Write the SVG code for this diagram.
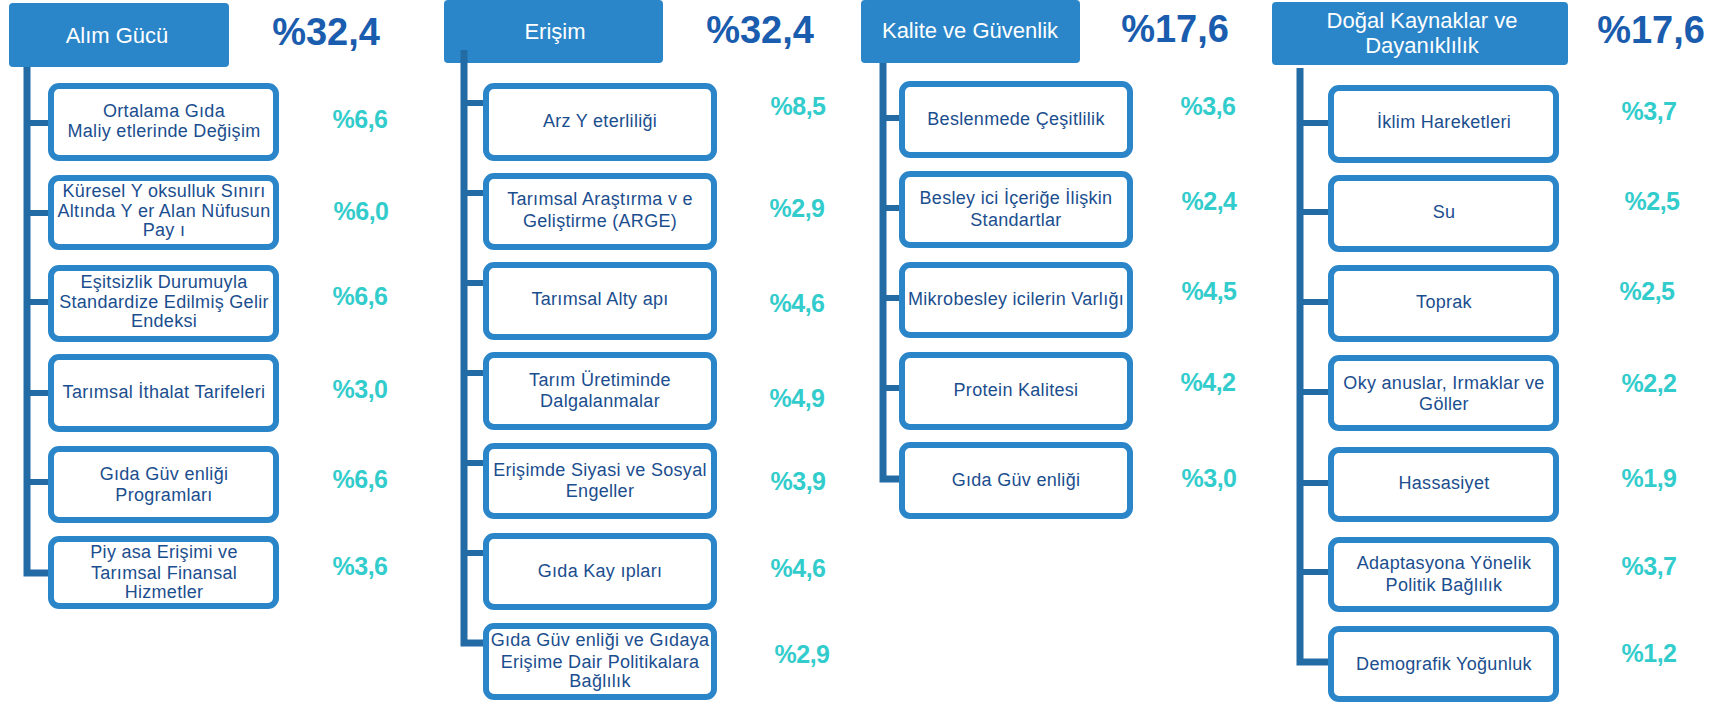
<svg xmlns="http://www.w3.org/2000/svg" width="1716" height="703" viewBox="0 0 1716 703">
<style>
text{font-family:"Liberation Sans",Arial,sans-serif}
.hdr{fill:#2B86C9}
.ht{fill:#fff;font-size:22px;text-anchor:middle}
.box{fill:#fff;stroke:#2B86C9;stroke-width:6}
.bt{fill:#1B4E8E;font-size:18px;text-anchor:middle;letter-spacing:0.3px}
.big{fill:#1A5CAD;font-size:38px;font-weight:bold;text-anchor:middle}
.pct{fill:#33CCCC;font-size:25px;font-weight:bold;text-anchor:middle;letter-spacing:-0.5px}
.trunk{stroke:#236BA4;stroke-width:7;fill:none}
.br{stroke:#236BA4;stroke-width:6}
</style>
<rect width="1716" height="703" fill="#fff"/>

<!-- headers -->
<g id="h1"><rect class="hdr" x="9" y="3" width="220" height="64" rx="4"/><text class="ht" x="117" y="43">Alım Gücü</text></g>
<g id="h2"><rect class="hdr" x="444" y="0" width="219" height="63" rx="4"/><text class="ht" x="555" y="39">Erişim</text></g>
<g id="h3"><rect class="hdr" x="861" y="0" width="219" height="63" rx="4"/><text class="ht" x="970" y="38">Kalite ve Güvenlik</text></g>
<g id="h4"><rect class="hdr" x="1272" y="2" width="296" height="63" rx="4"/><text class="ht" x="1422" y="28">Doğal Kaynaklar ve</text><text class="ht" x="1422" y="53">Dayanıklılık</text></g>

<!-- header percentages -->
<g id="p-h"><text class="big" x="326" y="45">%32,4</text><text class="big" x="760" y="43">%32,4</text><text class="big" x="1175" y="42">%17,6</text><text class="big" x="1651" y="43">%17,6</text></g>

<!-- connectors -->
<g id="connectors">
<path class="trunk" d="M27 67V573H48"/>
<path class="br" d="M27 123H48M27 213H48M27 302H48M27 393H48M27 482H48"/>
<path class="trunk" d="M464 50V643H483"/>
<path class="br" d="M464 103H483M464 193H483M464 283H483M464 373H483M464 463H483M464 553H483"/>
<path class="trunk" d="M883 63V479H899"/>
<path class="br" d="M883 118H899M883 208H899M883 298H899M883 388H899"/>
<path class="trunk" d="M1300 68V662H1328"/>
<path class="br" d="M1300 123H1328M1300 212H1328M1300 302H1328M1300 392H1328M1300 483H1328M1300 572H1328"/>
</g>

<!-- column 1 -->
<g id="c1n1"><rect class="box" x="51" y="86" width="225" height="72" rx="8"/><text class="bt" x="164" y="117">Ortalama Gıda</text><text class="bt" x="164" y="137">Maliy etlerinde Değişim</text></g>
<g id="c1n2"><rect class="box" x="51" y="178" width="225" height="69" rx="8"/><text class="bt" x="164" y="197">Küresel Y oksulluk Sınırı</text><text class="bt" x="164" y="217">Altında Y er Alan Nüfusun</text><text class="bt" x="164" y="236">Pay ı</text></g>
<g id="c1n3"><rect class="box" x="51" y="268" width="225" height="71" rx="8"/><text class="bt" x="164" y="288">Eşitsizlik Durumuyla</text><text class="bt" x="164" y="308">Standardize Edilmiş Gelir</text><text class="bt" x="164" y="327">Endeksi</text></g>
<g id="c1n4"><rect class="box" x="51" y="357" width="225" height="72" rx="8"/><text class="bt" x="164" y="398">Tarımsal İthalat Tarifeleri</text></g>
<g id="c1n5"><rect class="box" x="51" y="449" width="225" height="71" rx="8"/><text class="bt" x="164" y="480">Gıda Güv enliği</text><text class="bt" x="164" y="501">Programları</text></g>
<g id="c1n6"><rect class="box" x="51" y="539" width="225" height="67" rx="8"/><text class="bt" x="164" y="558">Piy asa Erişimi ve</text><text class="bt" x="164" y="579">Tarımsal Finansal</text><text class="bt" x="164" y="598">Hizmetler</text></g>

<!-- column 2 -->
<g id="c2n1"><rect class="box" x="486" y="86" width="228" height="72" rx="8"/><text class="bt" x="600" y="127">Arz Y eterliliği</text></g>
<g id="c2n2"><rect class="box" x="486" y="176" width="228" height="71" rx="8"/><text class="bt" x="600" y="205">Tarımsal Araştırma v e</text><text class="bt" x="600" y="227">Geliştirme (ARGE)</text></g>
<g id="c2n3"><rect class="box" x="486" y="265" width="228" height="72" rx="8"/><text class="bt" x="600" y="305">Tarımsal Alty apı</text></g>
<g id="c2n4"><rect class="box" x="486" y="355" width="228" height="72" rx="8"/><text class="bt" x="600" y="386">Tarım Üretiminde</text><text class="bt" x="600" y="407">Dalgalanmalar</text></g>
<g id="c2n5"><rect class="box" x="486" y="446" width="228" height="70" rx="8"/><text class="bt" x="600" y="476">Erişimde Siyasi ve Sosyal</text><text class="bt" x="600" y="497">Engeller</text></g>
<g id="c2n6"><rect class="box" x="486" y="536" width="228" height="71" rx="8"/><text class="bt" x="600" y="577">Gıda Kay ıpları</text></g>
<g id="c2n7"><rect class="box" x="486" y="626" width="228" height="71" rx="8"/><text class="bt" x="600" y="646">Gıda Güv enliği ve Gıdaya</text><text class="bt" x="600" y="668">Erişime Dair Politikalara</text><text class="bt" x="600" y="687">Bağlılık</text></g>

<!-- column 3 -->
<g id="c3n1"><rect class="box" x="902" y="84" width="228" height="71" rx="8"/><text class="bt" x="1016" y="125">Beslenmede Çeşitlilik</text></g>
<g id="c3n2"><rect class="box" x="902" y="174" width="228" height="71" rx="8"/><text class="bt" x="1016" y="204">Besley ici İçeriğe İlişkin</text><text class="bt" x="1016" y="226">Standartlar</text></g>
<g id="c3n3"><rect class="box" x="902" y="265" width="228" height="70" rx="8"/><text class="bt" x="1016" y="305">Mikrobesley icilerin Varlığı</text></g>
<g id="c3n4"><rect class="box" x="902" y="355" width="228" height="72" rx="8"/><text class="bt" x="1016" y="396">Protein Kalitesi</text></g>
<g id="c3n5"><rect class="box" x="902" y="445" width="228" height="71" rx="8"/><text class="bt" x="1016" y="486">Gıda Güv enliği</text></g>

<!-- column 4 -->
<g id="c4n1"><rect class="box" x="1331" y="88" width="225" height="72" rx="8"/><text class="bt" x="1444" y="128">İklim Hareketleri</text></g>
<g id="c4n2"><rect class="box" x="1331" y="178" width="225" height="71" rx="8"/><text class="bt" x="1444" y="218">Su</text></g>
<g id="c4n3"><rect class="box" x="1331" y="268" width="225" height="71" rx="8"/><text class="bt" x="1444" y="308">Toprak</text></g>
<g id="c4n4"><rect class="box" x="1331" y="358" width="225" height="70" rx="8"/><text class="bt" x="1444" y="389">Oky anuslar, Irmaklar ve</text><text class="bt" x="1444" y="410">Göller</text></g>
<g id="c4n5"><rect class="box" x="1331" y="450" width="225" height="69" rx="8"/><text class="bt" x="1444" y="489">Hassasiyet</text></g>
<g id="c4n6"><rect class="box" x="1331" y="540" width="225" height="69" rx="8"/><text class="bt" x="1444" y="569">Adaptasyona Yönelik</text><text class="bt" x="1444" y="591">Politik Bağlılık</text></g>
<g id="c4n7"><rect class="box" x="1331" y="629" width="225" height="70" rx="8"/><text class="bt" x="1444" y="670">Demografik Yoğunluk</text></g>

<!-- item percentages -->
<g id="pcts">
<text class="pct" x="360" y="128">%6,6</text>
<text class="pct" x="361" y="220">%6,0</text>
<text class="pct" x="360" y="305">%6,6</text>
<text class="pct" x="360" y="398">%3,0</text>
<text class="pct" x="360" y="488">%6,6</text>
<text class="pct" x="360" y="575">%3,6</text>
<text class="pct" x="798" y="115">%8,5</text>
<text class="pct" x="797" y="217">%2,9</text>
<text class="pct" x="797" y="312">%4,6</text>
<text class="pct" x="797" y="407">%4,9</text>
<text class="pct" x="798" y="490">%3,9</text>
<text class="pct" x="798" y="577">%4,6</text>
<text class="pct" x="802" y="663">%2,9</text>
<text class="pct" x="1208" y="115">%3,6</text>
<text class="pct" x="1209" y="210">%2,4</text>
<text class="pct" x="1209" y="300">%4,5</text>
<text class="pct" x="1208" y="391">%4,2</text>
<text class="pct" x="1209" y="487">%3,0</text>
<text class="pct" x="1649" y="120">%3,7</text>
<text class="pct" x="1652" y="210">%2,5</text>
<text class="pct" x="1647" y="300">%2,5</text>
<text class="pct" x="1649" y="392">%2,2</text>
<text class="pct" x="1649" y="487">%1,9</text>
<text class="pct" x="1649" y="575">%3,7</text>
<text class="pct" x="1649" y="662">%1,2</text>
</g>
</svg>
